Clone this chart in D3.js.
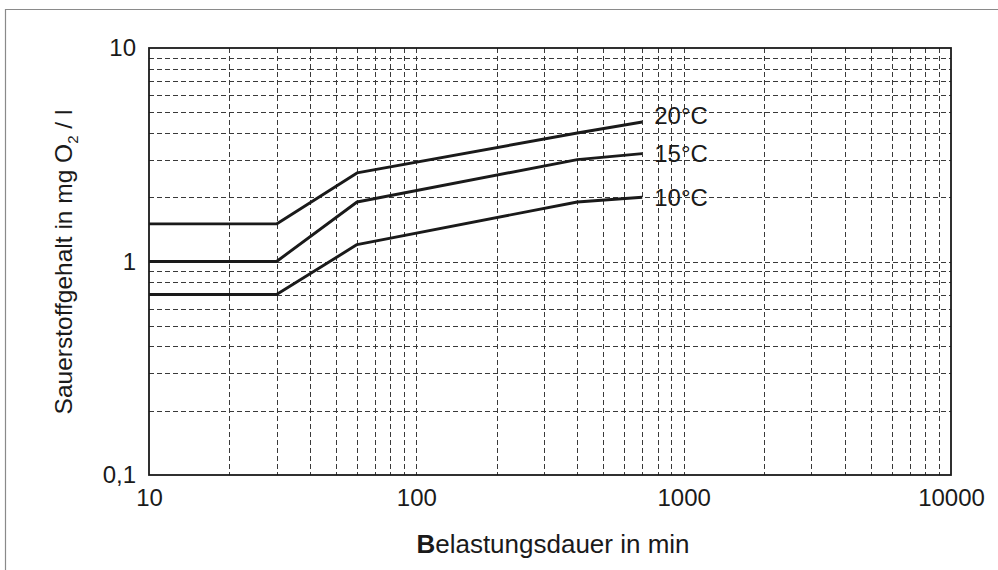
<!DOCTYPE html>
<html>
<head>
<meta charset="utf-8">
<script src="https://cdn.jsdelivr.net/npm/d3@7"></script>
<style>
  html, body { margin: 0; padding: 0; background: #fff; }
  svg { display: block; }
  text { font-family: "Liberation Sans", Arial, Helvetica, sans-serif; fill: #1a1a1a; }
</style>
</head>
<body>
<svg id="chart" width="998" height="570"></svg>
<script>
// Exposure duration (min) at the curve break points
const durations = [10, 30, 60, 400, 700];
// Oxygen content (mg O2 / l) per water temperature
const series20 = [1.5, 1.5, 2.6, 4.0, 4.5];
const series15 = [1.0, 1.0, 1.9, 3.0, 3.2];
const series10 = [0.7, 0.7, 1.2, 1.9, 2.0];
const seriesLabels = ["20°C", "15°C", "10°C"];

// Axis ticks and their printed labels
const xTickValues = [10, 100, 1000, 10000];
const xTickLabels = ["10", "100", "1000", "10000"];
const yTickValues = [0.1, 1, 10];
const yTickLabels = ["0,1", "1", "10"];

const svg = d3.select("#chart");
const W = 998, H = 570;
const m = { left: 149, right: 47, top: 48, bottom: 95 };

const x = d3.scaleLog().domain([10, 10000]).range([m.left, W - m.right]);
const y = d3.scaleLog().domain([0.1, 10]).range([H - m.bottom, m.top]);

// outer frame (open to the right and bottom)
svg.append("path")
  .attr("d", `M5.5,${H} V9.5 H${W}`)
  .attr("fill", "none").attr("stroke", "#8a8a8a").attr("stroke-width", 1.2);

// minor grid values: 2..9 within each decade, plus the inner decades
const xMinor = [];
[10, 100, 1000].forEach(d => { for (let k = 2; k <= 9; k++) xMinor.push(d * k); });
xMinor.push(100, 1000);
const yMinor = [];
[0.1, 1].forEach(d => { for (let k = 2; k <= 9; k++) yMinor.push(+(d * k).toFixed(2)); });
yMinor.push(1);

const grid = svg.append("g").attr("stroke", "#3a3a3a").attr("stroke-width", 1)
  .attr("stroke-dasharray", "5,3").attr("fill", "none");
grid.selectAll("line.v").data(xMinor).join("line").attr("class", "v")
  .attr("x1", d => Math.round(x(d)) + 0.5).attr("x2", d => Math.round(x(d)) + 0.5)
  .attr("y1", y(10)).attr("y2", y(0.1));
grid.selectAll("line.h").data(yMinor).join("line").attr("class", "h")
  .attr("y1", d => Math.round(y(d)) + 0.5).attr("y2", d => Math.round(y(d)) + 0.5)
  .attr("x1", x(10)).attr("x2", x(10000));

// plot frame
svg.append("rect")
  .attr("x", x(10)).attr("y", y(10))
  .attr("width", x(10000) - x(10)).attr("height", y(0.1) - y(10))
  .attr("fill", "none").attr("stroke", "#1a1a1a").attr("stroke-width", 1.8);

// tick labels via d3 axes (tick lines hidden)
const xAxis = d3.axisBottom(x).tickValues(xTickValues)
  .tickFormat((d, i) => xTickLabels[i]).tickSize(0).tickPadding(14);
const gx = svg.append("g").attr("transform", `translate(0,${y(0.1)})`).call(xAxis);
gx.select(".domain").remove();
gx.selectAll("text").style("font-size", "24px").attr("fill", "#1a1a1a");

const yAxis = d3.axisLeft(y).tickValues(yTickValues)
  .tickFormat((d, i) => yTickLabels[i]).tickSize(0).tickPadding(13);
const gy = svg.append("g").attr("transform", `translate(${x(10)},0)`).call(yAxis);
gy.select(".domain").remove();
gy.selectAll("text").style("font-size", "24px").attr("fill", "#1a1a1a");

// curves
const line = d3.line().x((d, i) => x(durations[i])).y(d => y(d));
const allSeries = [series20, series15, series10];
svg.append("g").selectAll("path").data(allSeries).join("path")
  .attr("d", d => line(d))
  .attr("fill", "none").attr("stroke", "#1a1a1a").attr("stroke-width", 2.9)
  .attr("stroke-linejoin", "round");

// curve labels at the line ends
const labelDy = [-4, 2, 2];
svg.append("g").selectAll("text").data(allSeries).join("text")
  .attr("x", d => x(durations[durations.length - 1]) + 12)
  .attr("y", (d, i) => y(d[d.length - 1]) + labelDy[i])
  .attr("dominant-baseline", "middle")
  .style("font-size", "24px")
  .text((d, i) => seriesLabels[i]);

// axis titles
const xt = svg.append("text")
  .attr("x", (x(10) + x(10000)) / 2 + 3).attr("y", 553)
  .attr("text-anchor", "middle")
  .style("font-size", "26px");
xt.append("tspan").style("font-weight", "bold").text("B");
xt.append("tspan").text("elastungsdauer in min");

const yt = svg.append("text")
  .attr("transform", `translate(72,262) rotate(-90)`)
  .attr("text-anchor", "middle")
  .style("font-size", "24.5px");
yt.append("tspan").text("Sauerstoffgehalt in mg O");
yt.append("tspan").attr("dy", 6).style("font-size", "15px").text("2");
yt.append("tspan").attr("dy", -6).text(" / l");
</script>
</body>
</html>
